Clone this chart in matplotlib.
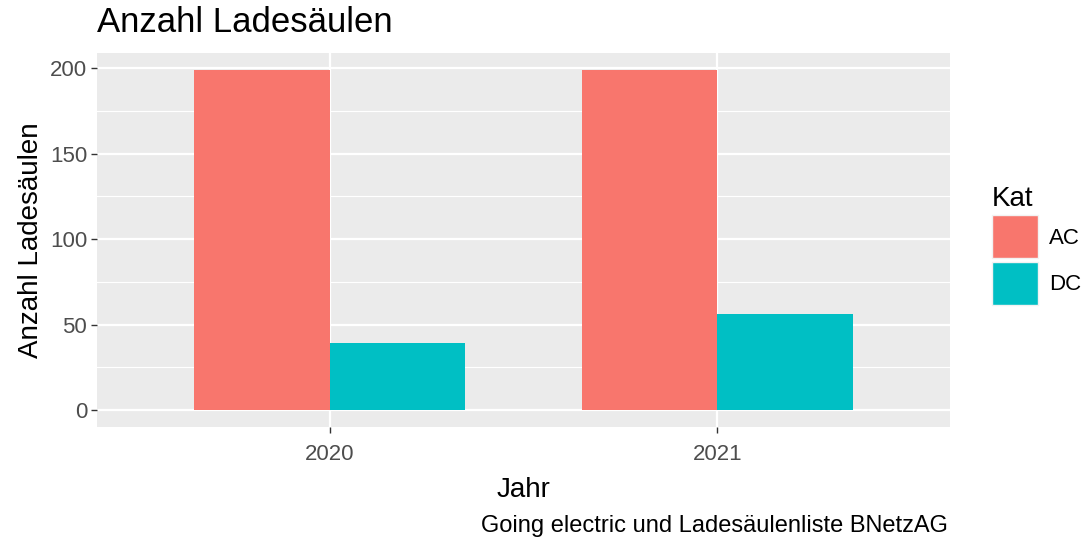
import numpy as np
import matplotlib
matplotlib.use('Agg')
import matplotlib.pyplot as plt
from matplotlib.patches import Patch
from matplotlib.ticker import MultipleLocator

# Data
jahre = ['2020', '2021']
kategorien = ['AC', 'DC']
werte_ac = [199, 199]
werte_dc = [39, 56]
farben = {'AC': '#F8766D', 'DC': '#00BFC4'}

plt.rcParams['font.family'] = ['Liberation Sans', 'DejaVu Sans']

W, H = 1090, 542
fig = plt.figure(figsize=(W / 100, H / 100), dpi=100)
# panel in pixel coords: left 97, right 950, top 53, bottom 427
ax = fig.add_axes([97 / W, 1 - 427 / H, (950 - 97) / W, (427 - 53) / H])

x = np.arange(len(jahre))
breite = 0.35
ax.bar(x - breite / 2, werte_ac, width=breite, color=farben['AC'], zorder=3)
ax.bar(x + breite / 2, werte_dc, width=breite, color=farben['DC'], zorder=3)

# ggplot-like panel
ymax = max(werte_ac + werte_dc)
ax.set_ylim(-0.05 * ymax, 1.05 * ymax)
ax.set_xlim(-0.6, len(jahre) - 1 + 0.6)
ax.set_facecolor('#EBEBEB')
for s in ax.spines.values():
    s.set_visible(False)
ax.yaxis.set_major_locator(MultipleLocator(50))
ax.yaxis.set_minor_locator(MultipleLocator(25))
ax.set_xticks(x)
ax.set_xticklabels(jahre)
ax.grid(which='major', color='white', linewidth=1.6, zorder=0)
ax.grid(which='minor', axis='y', color='white', linewidth=0.8, zorder=0)
ax.set_axisbelow(True)
ax.tick_params(which='major', length=4, width=1, color='#333333',
               labelsize=16, labelcolor='#4D4D4D', pad=3)
ax.tick_params(axis='x', pad=8)
ax.tick_params(which='minor', length=0)

ax.set_xlabel('Jahr', fontsize=20, labelpad=9)
ax.set_ylabel('Anzahl Ladesäulen', fontsize=20, labelpad=4)

fig.text(97 / W, 1 - 23 / H, 'Anzahl Ladesäulen', fontsize=25,
         ha='left', va='center')
fig.text(948 / W, 1 - 526 / H, 'Going electric und Ladesäulenliste BNetzAG',
         fontsize=17, ha='right', va='center')

handles = [Patch(facecolor=farben[k], edgecolor='#F2F2F2', linewidth=1) for k in kategorien]
leg = fig.legend(handles, kategorien, title='Kat', loc='upper left',
                 bbox_to_anchor=(972 / W, 1 - 166 / H), frameon=False,
                 fontsize=16, title_fontsize=20, handlelength=2.05,
                 handleheight=2.6, labelspacing=0.15, handletextpad=0.5,
                 alignment='left')

fig.savefig('out.png', dpi=100)
